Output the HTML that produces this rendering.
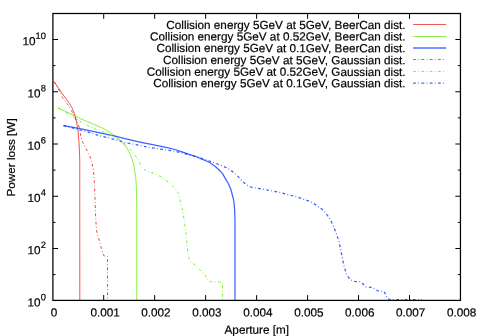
<!DOCTYPE html><html><head><meta charset="utf-8"><title>plot</title><style>html,body{margin:0;padding:0;background:#fff;}svg{display:block;will-change:transform;}text{font-family:"Liberation Sans",sans-serif;fill:#000;stroke:#000;stroke-width:0.2px;}</style></head><body>
<svg width="481" height="336" viewBox="0 0 481 336">
<rect width="481" height="336" fill="#fff"/>
<mask id="m" maskUnits="userSpaceOnUse" x="0" y="0" width="481" height="336"><rect width="481" height="336" fill="#fff"/></mask>
<g mask="url(#m)">
<polyline points="54.20,81.80 56.00,84.30 58.30,87.70 62.50,93.90 66.70,99.75 69.60,103.70 71.90,107.50 73.50,111.30 74.80,115.00 75.70,118.00 76.70,122.50 77.50,127.50 78.30,133.00 78.90,141.00 79.40,150.00 79.75,160.00 79.80,300.40" fill="none" stroke="#e60500" stroke-width="1.0" stroke-opacity="0.68" stroke-linejoin="round"/>
<polyline points="58.10,108.10 66.00,111.60 75.00,115.80 80.00,118.50 87.50,121.70 92.50,123.75 100.00,127.00 105.00,129.40 112.50,134.00 117.50,137.80 122.50,142.80 126.25,147.30 128.75,151.50 130.50,155.00 132.00,159.00 133.50,164.00 135.00,172.50 135.75,177.50 136.25,185.00 136.60,194.00 136.75,210.00 136.75,300.40" fill="none" stroke="#5fec00" stroke-width="1.0" stroke-opacity="0.72" stroke-linejoin="round"/>
<polyline points="63.50,125.60 80.00,128.60 100.00,132.80 115.00,136.20 125.00,138.70 140.00,142.10 150.00,144.20 165.00,147.20 175.00,149.50 182.00,151.80 190.00,154.60 197.00,157.00 202.50,159.30 206.00,160.80 210.00,162.80 215.00,166.25 217.50,168.50 220.00,170.70 222.50,173.60 227.00,181.40 228.30,183.50 230.50,188.50 232.10,194.00 233.40,199.00 234.20,204.00 234.75,212.00 235.00,224.00 235.00,300.40" fill="none" stroke="#0030ff" stroke-width="1.25" stroke-opacity="0.76" stroke-linejoin="round"/>
<polyline points="54.20,81.80 56.50,85.80 58.50,89.30 60.00,91.80 61.30,94.80 62.50,97.50 65.00,101.00 67.50,104.30 68.75,105.80 71.50,110.50 73.75,115.00 76.25,120.00 79.40,127.50 80.00,131.70 81.70,140.00 85.00,146.70 89.20,154.20 91.70,161.70 93.30,170.00 94.20,178.30 94.50,186.00 95.00,196.70 95.50,213.30 96.20,226.70 96.60,231.10 99.50,241.30 102.50,252.60 104.10,256.00 107.50,256.40 107.50,300.40" fill="none" stroke="#e60500" stroke-width="1.0" stroke-opacity="0.74" stroke-linejoin="round" stroke-dasharray="2.8 2.3 0.8 2.4"/>
<polyline points="58.10,108.10 65.00,112.00 72.50,116.25 85.00,124.40 97.50,130.00 100.00,131.00 108.75,133.75 115.00,137.50 125.00,143.75 135.00,155.00 139.50,162.50 141.25,166.25 145.00,170.00 146.25,170.75 155.00,173.75 157.50,175.00 162.50,177.50 165.00,180.00 170.00,182.50 172.50,186.25 176.25,190.00 178.75,194.00 180.00,200.00 182.50,210.00 184.50,222.50 185.50,230.00 186.25,235.00 187.00,245.00 188.00,255.00 190.00,261.25 195.00,265.00 200.00,270.00 205.00,275.00 208.75,281.25 212.50,282.00 222.50,282.00 222.50,300.40" fill="none" stroke="#5fec00" stroke-width="1.0" stroke-opacity="0.8" stroke-linejoin="round" stroke-dasharray="2.8 2.3 0.8 2.4"/>
<polyline points="63.50,125.60 75.00,128.50 87.50,131.90 100.00,136.00 108.75,137.80 125.00,142.50 150.00,147.50 175.00,151.25 190.00,155.00 200.00,157.50 202.50,158.75 215.00,163.00 220.00,164.90 227.50,168.20 235.00,173.20 242.50,181.25 246.00,184.50 250.00,186.75 257.00,188.30 265.00,189.50 280.00,192.50 292.50,195.75 295.00,196.25 302.50,198.75 310.00,201.50 315.00,204.25 323.75,210.50 330.00,218.75 335.00,230.00 338.75,240.50 341.25,252.50 343.75,265.00 346.25,273.75 348.50,277.50 351.25,280.00 355.00,281.50 360.00,281.75 363.00,284.00 366.25,287.00 372.50,287.50 375.00,289.00 377.50,290.75 383.75,291.25 385.50,294.00 387.50,298.75 390.00,299.50 421.90,299.50" fill="none" stroke="#0030ff" stroke-width="1.25" stroke-opacity="0.78" stroke-linejoin="round" stroke-dasharray="2.8 2.3 0.8 2.4"/>
<rect x="52.9" y="13.5" width="407.55" height="286.9" fill="none" stroke="#000" stroke-width="1.25"/>
<path d="M103.70 300.40v-5.3M103.70 13.50v5.3M154.67 300.40v-5.3M154.67 13.50v5.3M205.64 300.40v-5.3M205.64 13.50v5.3M256.61 300.40v-5.3M256.61 13.50v5.3M307.58 300.40v-5.3M307.58 13.50v5.3M358.55 300.40v-5.3M358.55 13.50v5.3M409.52 300.40v-5.3M409.52 13.50v5.3M52.90 274.62h2.6M460.45 274.62h-2.6M52.90 248.50h5.1M460.45 248.50h-5.1M52.90 222.38h2.6M460.45 222.38h-2.6M52.90 196.25h5.1M460.45 196.25h-5.1M52.90 170.12h2.6M460.45 170.12h-2.6M52.90 144.00h5.1M460.45 144.00h-5.1M52.90 117.88h2.6M460.45 117.88h-2.6M52.90 91.75h5.1M460.45 91.75h-5.1M52.90 65.62h2.6M460.45 65.62h-2.6M52.90 39.50h5.1M460.45 39.50h-5.1" stroke="#000" stroke-width="1.0" fill="none"/>
<text x="54.10" y="316.60" font-size="11.73" text-anchor="middle" transform="rotate(0.03 54.1 316.60)">0</text>
<text x="105.04" y="316.60" font-size="11.73" text-anchor="middle" transform="rotate(0.03 105.0 316.60)">0.001</text>
<text x="155.99" y="316.60" font-size="11.73" text-anchor="middle" transform="rotate(0.03 156.0 316.60)">0.002</text>
<text x="206.93" y="316.60" font-size="11.73" text-anchor="middle" transform="rotate(0.03 206.9 316.60)">0.003</text>
<text x="257.88" y="316.60" font-size="11.73" text-anchor="middle" transform="rotate(0.03 257.9 316.60)">0.004</text>
<text x="308.82" y="316.60" font-size="11.73" text-anchor="middle" transform="rotate(0.03 308.8 316.60)">0.005</text>
<text x="359.76" y="316.60" font-size="11.73" text-anchor="middle" transform="rotate(0.03 359.8 316.60)">0.006</text>
<text x="410.71" y="316.60" font-size="11.73" text-anchor="middle" transform="rotate(0.03 410.7 316.60)">0.007</text>
<text x="461.65" y="316.60" font-size="11.73" text-anchor="middle" transform="rotate(0.03 461.6 316.60)">0.008</text>
<text x="45.80" y="306.40" font-size="11.73" text-anchor="end" transform="rotate(0.03 36.0 306.40)">10<tspan font-size="9.3" dy="-6.1">0</tspan></text>
<text x="45.80" y="254.15" font-size="11.73" text-anchor="end" transform="rotate(0.03 36.0 254.15)">10<tspan font-size="9.3" dy="-6.1">2</tspan></text>
<text x="45.80" y="201.90" font-size="11.73" text-anchor="end" transform="rotate(0.03 36.0 201.90)">10<tspan font-size="9.3" dy="-6.1">4</tspan></text>
<text x="45.80" y="149.65" font-size="11.73" text-anchor="end" transform="rotate(0.03 36.0 149.65)">10<tspan font-size="9.3" dy="-6.1">6</tspan></text>
<text x="45.80" y="97.40" font-size="11.73" text-anchor="end" transform="rotate(0.03 36.0 97.40)">10<tspan font-size="9.3" dy="-6.1">8</tspan></text>
<text x="45.80" y="45.15" font-size="11.73" text-anchor="end" transform="rotate(0.03 36.0 45.15)">10<tspan font-size="9.3" dy="-6.1">10</tspan></text>
<text x="256.80" y="333.70" font-size="11.73" text-anchor="middle" transform="rotate(0.03 256.8 333.70)">Aperture [m]</text>
<text transform="translate(15.2,157.4) rotate(-90)" font-size="11.73" text-anchor="middle">Power loss [W]</text>
<text x="405.60" y="29.00" font-size="11.73" text-anchor="end" transform="rotate(0.03 280.0 29.00)">Collision energy 5GeV at 5GeV, BeerCan dist.</text>
<path d="M413.1 24.50H446.2" stroke="#e60500" stroke-width="1.0" stroke-opacity="0.66" fill="none"/>
<text x="405.60" y="40.55" font-size="11.73" text-anchor="end" transform="rotate(0.03 280.0 40.55)">Collision energy 5GeV at 0.52GeV, BeerCan dist.</text>
<path d="M413.1 36.50H446.2" stroke="#5fec00" stroke-width="1.0" stroke-opacity="0.72" fill="none"/>
<text x="405.60" y="52.15" font-size="11.73" text-anchor="end" transform="rotate(0.03 280.0 52.15)">Collision energy 5GeV at 0.1GeV, BeerCan dist.</text>
<path d="M413.1 48.00H446.2" stroke="#0030ff" stroke-width="1.35" stroke-opacity="0.7" fill="none"/>
<text x="405.60" y="64.15" font-size="11.73" text-anchor="end" transform="rotate(0.03 280.0 64.15)">Collision energy 5GeV at 5GeV, Gaussian dist.</text>
<path d="M413.1 59.50H444.2" stroke="#e60500" stroke-width="1.0" stroke-opacity="0.72" stroke-dasharray="2.8 2.3 0.8 2.4" fill="none"/>
<text x="405.60" y="75.85" font-size="11.73" text-anchor="end" transform="rotate(0.03 280.0 75.85)">Collision energy 5GeV at 0.52GeV, Gaussian dist.</text>
<path d="M413.1 71.40H444.2" stroke="#5fec00" stroke-width="1.0" stroke-opacity="0.8" stroke-dasharray="2.8 2.3 0.8 2.4" fill="none"/>
<text x="405.60" y="87.20" font-size="11.73" text-anchor="end" transform="rotate(0.03 280.0 87.20)">Collision energy 5GeV at 0.1GeV, Gaussian dist.</text>
<path d="M413.1 83.05H444.2" stroke="#0030ff" stroke-width="1.35" stroke-opacity="0.72" stroke-dasharray="2.8 2.3 0.8 2.4" fill="none"/>
</g>
</svg></body></html>
